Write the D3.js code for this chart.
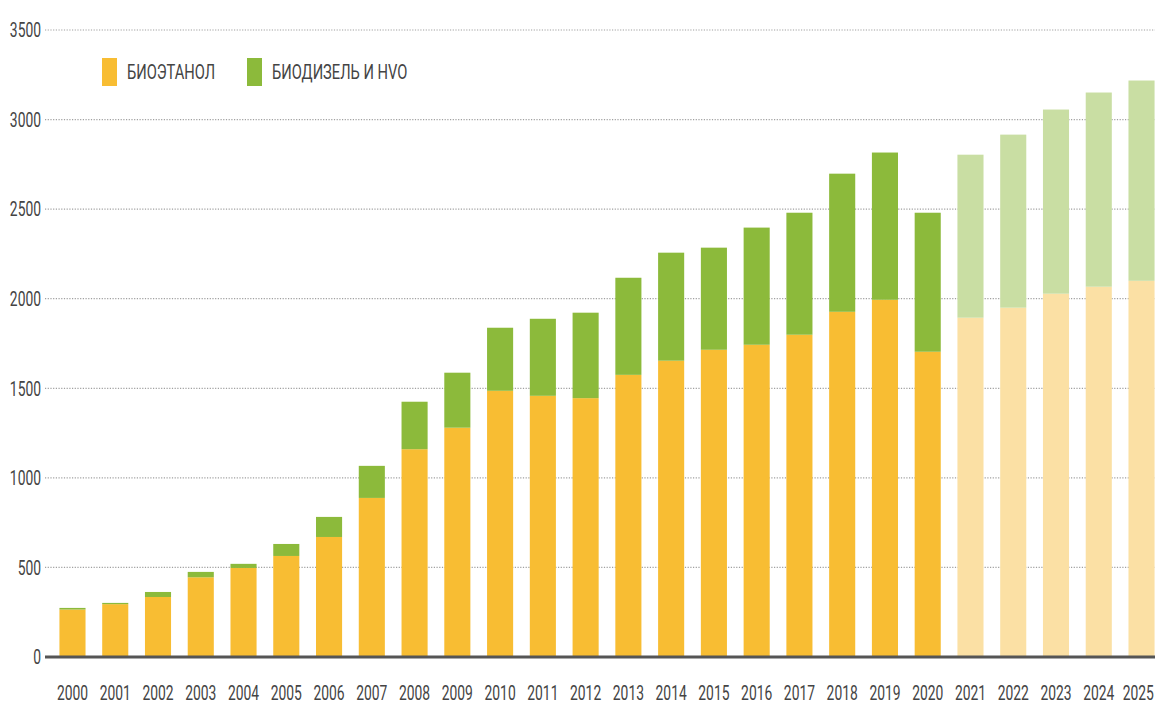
<!DOCTYPE html>
<html>
<head>
<meta charset="utf-8">
<script src="https://cdn.jsdelivr.net/npm/d3@7"></script>
<style>
  body { margin: 0; background: #fff; }
  text { font-family: Roboto, 'Noto Sans', sans-serif; fill: #444; }
</style>
</head>
<body>
<div id="chart"></div>
<script>
// years on the x axis
const years = ['2000', '2001', '2002', '2003', '2004', '2005', '2006', '2007', '2008', '2009',
  '2010', '2011', '2012', '2013', '2014', '2015', '2016', '2017', '2018', '2019',
  '2020', '2021', '2022', '2023', '2024', '2025']
// bioethanol (bottom part of each bar)
const ethanol = [265, 295, 335, 445, 497, 564, 670, 888, 1160, 1280,
  1486, 1458, 1445, 1575, 1654, 1715, 1743, 1799, 1927, 1994,
  1704, 1894, 1950, 2028, 2067, 2100]
// biodiesel and HVO (top part)
const diesel = [9, 7, 28, 30, 23, 67, 112, 179, 265, 307,
  352, 430, 477, 542, 603, 570, 654, 681, 771, 822,
  776, 910, 966, 1028, 1084, 1118]
// years drawn as forecast (pale colours)
const forecastYears = ['2021', '2022', '2023', '2024', '2025']
const yTicks = [0, 500, 1000, 1500, 2000, 2500, 3000, 3500]
const legendLabels = ['БИОЭТАНОЛ', 'БИОДИЗЕЛЬ И HVO']

const width = 1155
const height = 708
// narrow look of the original lettering
const squeeze = 'scale(0.66,1)'

const colors = {
  ethanol: '#f8bd33', diesel: '#8cba3b',
  ethanolLight: '#fbe0a4', dieselLight: '#c9dea3'
}

const svg = d3
  .select('#chart')
  .append('svg')
  .attr('width', width)
  .attr('height', height)

const x = d3
  .scaleBand()
  .domain(years)
  .range([51.1, 1162.9])
  .paddingInner(0.39)
  .paddingOuter(0.195)

const y = d3
  .scaleLinear()
  .domain([0, 3500])
  .range([657, 30])

// dotted grid lines
svg
  .append('g')
  .selectAll('line')
  .data(yTicks.filter(d => d > 0))
  .enter()
  .append('line')
  .attr('x1', 45)
  .attr('x2', width)
  .attr('y1', d => y(d))
  .attr('y2', d => y(d))
  .attr('stroke', '#a0a0a0')
  .attr('stroke-width', 1.2)
  .attr('stroke-dasharray', '1.2,1.5')

// y axis labels
svg
  .append('g')
  .attr('transform', 'translate(41,0)')
  .call(d3.axisLeft(y).tickValues(yTicks).tickSize(0).tickPadding(0).tickFormat(d3.format('d')))
  .call(g => g.select('.domain').remove())
  .selectAll('text')
  .style('font-size', '21px')
  .attr('fill', '#444')
  .attr('transform', squeeze)

// stacked bars
const rows = years.map((yr, i) => ({ year: yr, ethanol: ethanol[i], diesel: diesel[i] }))
const stacked = d3.stack().keys(['ethanol', 'diesel'])(rows)

svg
  .append('g')
  .selectAll('g')
  .data(stacked)
  .enter()
  .append('g')
  .selectAll('rect')
  .data(s => s.map(d => ({ key: s.key, d: d })))
  .enter()
  .append('rect')
  .attr('x', e => x(e.d.data.year))
  .attr('width', x.bandwidth())
  .attr('y', e => y(e.d[1]))
  .attr('height', e => y(e.d[0]) - y(e.d[1]))
  .attr('fill', e => {
    const light = forecastYears.includes(e.d.data.year)
    return colors[e.key + (light ? 'Light' : '')]
  })

// baseline
svg
  .append('line')
  .attr('x1', 45)
  .attr('x2', width)
  .attr('y1', y(0))
  .attr('y2', y(0))
  .attr('stroke', '#555')
  .attr('stroke-width', 3)

// x axis labels
svg
  .append('g')
  .attr('transform', 'translate(0,' + 693 + ')')
  .call(d3.axisBottom(x).tickSize(0).tickPadding(0))
  .call(g => g.select('.domain').remove())
  .selectAll('text')
  .attr('dy', '0.35em')
  .style('font-size', '21px')
  .attr('fill', '#444')
  .attr('transform', squeeze)
  // last label sits against the right edge
  .attr('dx', (d, i) => (i === years.length - 1 ? -5 : 0))

// legend
const legend = svg
  .append('g')
  .selectAll('g')
  .data(legendLabels)
  .enter()
  .append('g')
  .attr('transform', (d, i) => 'translate(' + [102, 247][i] + ',58)')

legend
  .append('rect')
  .attr('width', 15)
  .attr('height', 28)
  .attr('fill', (d, i) => (i === 0 ? colors.ethanol : colors.diesel))

legend
  .append('g')
  .attr('transform', 'translate(25,14)')
  .append('text')
  .attr('dy', '0.35em')
  .attr('transform', 'scale(0.7,1)')
  .style('font-size', '21px')
  .text(d => d)
</script>
</body>
</html>
